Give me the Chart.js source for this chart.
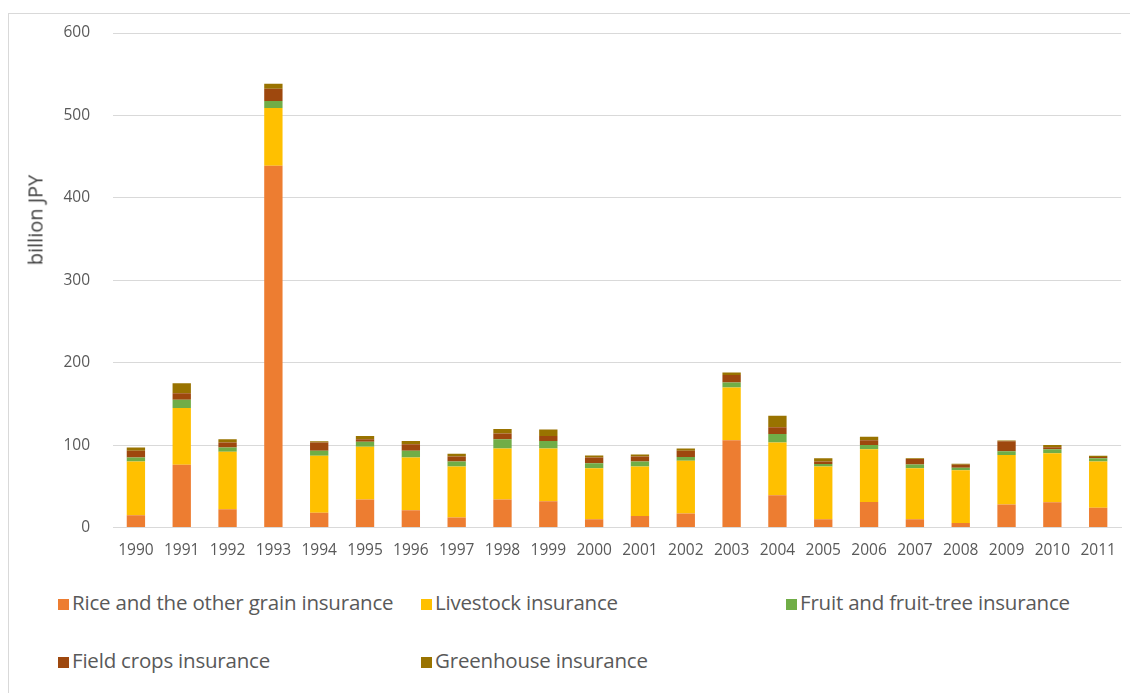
<!DOCTYPE html>
<html>
<head>
<meta charset="utf-8">
<script src="https://cdn.jsdelivr.net/npm/chart.js@4"></script>
<style>
  body { margin: 0; overflow: hidden; background: #fff; }
  #wrap { position: relative; width: 1130px; height: 693px; overflow: hidden; background: #fff; }
  #frame { position: absolute; left: 8px; top: 13px; width: 1200px; height: 800px; border: 1px solid #d9d9d9; box-sizing: border-box; }
  #box { position: absolute; left: 0; top: 0; width: 1130px; height: 580px; }
  #ytitle { position: absolute; left: 35px; top: 220px; transform: translate(-50%, -50%) rotate(-90deg);
            font-family: "Open Sans", sans-serif; font-size: 20px; color: #404040; white-space: nowrap; }
  .leg { position: absolute; font-family: "Open Sans", sans-serif; font-size: 20.5px; color: #595959; white-space: nowrap;
         line-height: 20px; letter-spacing: -0.2px; }
  .leg span { display: inline-block; width: 11px; height: 11px; margin-right: 3px; vertical-align: 0px; }
</style>
</head>
<body>
<div id="wrap">
  <div id="frame"></div>
  <div id="box"><canvas id="grafico"></canvas></div>
  <div id="ytitle">billion JPY</div>
  <div id="leyenda"></div>
</div>
<script>
// datos (billion JPY)
var years = ['1990','1991','1992','1993','1994','1995','1996','1997','1998','1999','2000',
             '2001','2002','2003','2004','2005','2006','2007','2008','2009','2010','2011'];
var rice       = [15, 76, 22, 439, 18, 34, 21, 12, 34, 32, 10, 14, 17, 106, 39, 10, 31, 10, 5.5, 28, 30.5, 24];
var livestock  = [65, 69, 70, 70, 69, 64, 64, 62, 62, 64, 62, 60, 64, 64, 64, 64, 64, 62, 64, 60, 59.5, 56];
var fruit      = [5, 10, 5, 8.5, 6, 6, 8, 6, 11, 9, 6, 6, 4.5, 6, 10.5, 3, 5, 4.5, 3, 4.5, 5, 4];
var fieldCrops = [8, 8, 6, 15, 10, 3, 8, 6, 7, 6, 7, 6, 7.5, 9, 8, 3, 6, 6.5, 3.5, 12, 2.5, 1.5];
var greenhouse = [4, 12, 4, 6, 1.5, 4, 4, 3.5, 5.5, 8, 2.5, 2.5, 3, 3, 14, 4, 4, 1, 1.5, 1, 2.5, 1.5];
var yTicks = [0, 100, 200, 300, 400, 500, 600];

var series = [
  { label: 'Rice and the other grain insurance', data: rice, color: '#ED7D31' },
  { label: 'Livestock insurance', data: livestock, color: '#FFC000' },
  { label: 'Fruit and fruit-tree insurance', data: fruit, color: '#70AD47' },
  { label: 'Field crops insurance', data: fieldCrops, color: '#9E480E' },
  { label: 'Greenhouse insurance', data: greenhouse, color: '#997300' }
];

var tickFont = { family: 'Open Sans', size: 15.5 };

var ctx = document.getElementById('grafico').getContext('2d');
var chart = new Chart(ctx, {
  type: 'bar',
  data: {
    labels: years,
    datasets: series.map(function (s) {
      return { label: s.label, data: s.data, backgroundColor: s.color, borderWidth: 0,
               categoryPercentage: 1, barPercentage: 0.4 };
    })
  },
  options: {
    responsive: true,
    maintainAspectRatio: false,
    animation: false,
    layout: { padding: { top: 33, right: 4, left: 0, bottom: 0 } },
    plugins: { legend: { display: false }, tooltip: { enabled: false } },
    scales: {
      x: {
        stacked: true,
        grid: { display: false, drawTicks: false },
        border: { display: true, color: '#d9d9d9' },
        ticks: { font: tickFont, color: '#595959', padding: 14, maxRotation: 0, autoSkip: false },
        afterFit: function (s) { s.height = 52.5; }
      },
      y: {
        stacked: true,
        min: 0, max: 600,
        afterBuildTicks: function (s) { s.ticks = yTicks.map(function (v) { return { value: v }; }); },
        grid: { color: '#d9d9d9', drawTicks: false },
        border: { display: false },
        ticks: { font: tickFont, color: '#595959', padding: 23 },
        afterFit: function (s) { s.width = 113; }
      }
    }
  }
});

// leyenda
var legPos = [[58, 602], [421, 602], [786, 602], [58, 660], [421, 660]];
var leg = document.getElementById('leyenda');
series.forEach(function (s, i) {
  var d = document.createElement('div');
  d.className = 'leg';
  d.style.left = legPos[i][0] + 'px';
  d.style.top = (legPos[i][1] - 10) + 'px';
  d.innerHTML = '<span style="background:' + s.color + '"></span>' + s.label;
  leg.appendChild(d);
});
</script>
</body>
</html>
